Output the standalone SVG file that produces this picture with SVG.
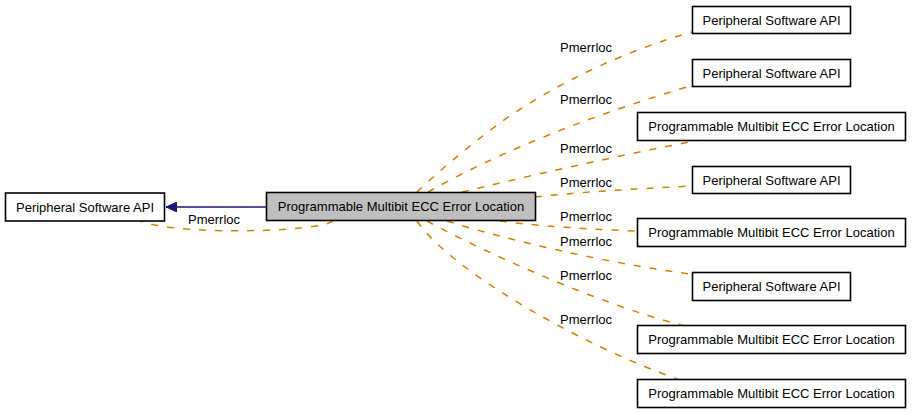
<svg xmlns="http://www.w3.org/2000/svg" width="912" height="413" viewBox="0 0 912 413">
<style>
text{font-family:"Liberation Sans",Arial,sans-serif;font-size:13px;fill:#000}
.n rect{fill:#fff;stroke:#000;stroke-width:1.6}
.n.cur rect{fill:#bfbfbf}
.n text{text-anchor:middle}
.e{fill:none;stroke:#c88400;stroke-width:1.5;stroke-dasharray:7,9}
.lbl{text-anchor:start}
</style>
<defs>
<marker id="ah" markerWidth="12" markerHeight="10" refX="11" refY="5" orient="auto" markerUnits="userSpaceOnUse">
<path d="M0,0 L11,5 L0,10 Z" fill="#191970" stroke="#191970"/>
</marker>
</defs>
<g id="connectors">
<line x1="266" y1="207" x2="166" y2="207" stroke="#191970" stroke-width="1.6" marker-end="url(#ah)"/>
<path class="e" d="M333,221 C320,232 180,236 140,221"/>
<text class="lbl" x="188" y="224">Pmerrloc</text>
<path class="e" d="M417,192 C440,170 470,145 500,123 S600,58 692,32"/>
<text class="lbl" x="560" y="52">Pmerrloc</text>
<path class="e" d="M428,192 C480,163 560,125 690,86"/>
<text class="lbl" x="560" y="104">Pmerrloc</text>
<path class="e" d="M462,192 C520,178 620,155 700,140"/>
<text class="lbl" x="560" y="153">Pmerrloc</text>
<path class="e" d="M535,197 C570,193 630,189 692,186"/>
<text class="lbl" x="560" y="187">Pmerrloc</text>
<path class="e" d="M500,221 C530,225 580,229 637,231"/>
<text class="lbl" x="560" y="221">Pmerrloc</text>
<path class="e" d="M447,221 C500,238 600,262 690,274"/>
<text class="lbl" x="560" y="246">Pmerrloc</text>
<path class="e" d="M427,221 C480,250 600,305 685,326"/>
<text class="lbl" x="560" y="280">Pmerrloc</text>
<path class="e" d="M417,221 C450,270 580,345 680,380"/>
<text class="lbl" x="560" y="324">Pmerrloc</text>
</g>
<g id="node_left" class="n"><rect x="5.5" y="193" width="159" height="28"/><text x="85" y="211.5">Peripheral Software API</text></g>
<g id="node_center" class="n cur"><rect x="266.5" y="192.5" width="269" height="28"/><text x="401" y="210.5">Programmable Multibit ECC Error Location</text></g>
<g id="node_r1" class="n"><rect x="692.5" y="6.5" width="158" height="27"/><text x="771.5" y="24.5">Peripheral Software API</text></g>
<g id="node_r2" class="n"><rect x="692.5" y="59.5" width="158" height="27"/><text x="771.5" y="77.5">Peripheral Software API</text></g>
<g id="node_r3" class="n"><rect x="637.5" y="112.5" width="268" height="28"/><text x="771.5" y="131">Programmable Multibit ECC Error Location</text></g>
<g id="node_r4" class="n"><rect x="692.5" y="166.5" width="158" height="27"/><text x="771.5" y="184.5">Peripheral Software API</text></g>
<g id="node_r5" class="n"><rect x="637.5" y="218.5" width="268" height="28"/><text x="771.5" y="237">Programmable Multibit ECC Error Location</text></g>
<g id="node_r6" class="n"><rect x="692.5" y="272.5" width="158" height="28"/><text x="771.5" y="291">Peripheral Software API</text></g>
<g id="node_r7" class="n"><rect x="637.5" y="325.5" width="268" height="28"/><text x="771.5" y="344">Programmable Multibit ECC Error Location</text></g>
<g id="node_r8" class="n"><rect x="637.5" y="379.5" width="268" height="28"/><text x="771.5" y="398">Programmable Multibit ECC Error Location</text></g>
</svg>
